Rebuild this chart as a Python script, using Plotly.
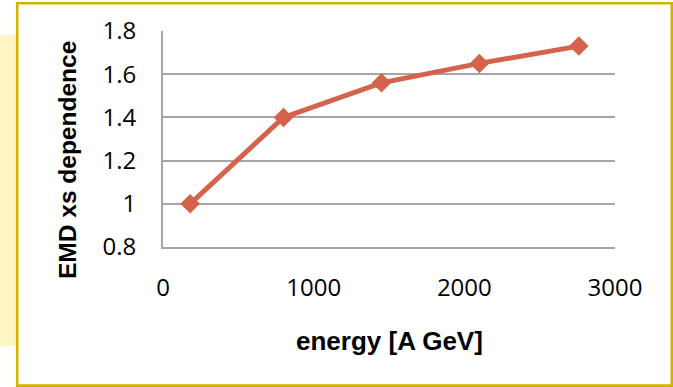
import plotly.graph_objects as go

# EMD cross-section dependence on beam energy
energy = [180, 800, 1450, 2100, 2760]
emd_xs = [1.0, 1.4, 1.56, 1.65, 1.73]

x_ticks = [0, 1000, 2000, 3000]
y_ticks = [0.8, 1.0, 1.2, 1.4, 1.6, 1.8]
y_tick_text = ["0.8", "1", "1.2", "1.4", "1.6", "1.8"]

line_color = "#D5634B"
grid_color = "#A6A6A6"
frame_color = "#D2B400"
tick_font = dict(family="Open Sans, Liberation Sans, sans-serif", size=24, color="#000000")
x_title_font = dict(family="Liberation Sans, Arial, sans-serif", size=26, color="#000000")
y_title_font = dict(family="Liberation Sans, Arial, sans-serif", size=24.5, color="#000000")

W, H = 673, 387
L, R, T, B = 163, 58, 31, 140
pw = W - L - R
ph = H - T - B


def px_x(v):
    return (v - L) / pw


def px_y(v):
    return (H - B - v) / ph


fig = go.Figure()
fig.add_trace(go.Scatter(
    x=energy, y=emd_xs, mode="lines+markers",
    line=dict(color=line_color, width=5),
    marker=dict(symbol="diamond", size=15, color=line_color),
    hoverinfo="x+y", showlegend=False,
))

fig.update_layout(
    width=W, height=H,
    margin=dict(l=L, r=R, t=T, b=B, pad=0),
    paper_bgcolor="white", plot_bgcolor="white",
    xaxis=dict(
        range=[0, 3000], tickvals=x_ticks, showgrid=False, zeroline=False,
        showline=True, linecolor=grid_color, linewidth=2,
        ticks="outside", ticklen=0, tickfont=tick_font, ticklabelstandoff=18,
        fixedrange=True,
    ),
    yaxis=dict(
        range=[0.8, 1.8], tickvals=y_ticks, ticktext=y_tick_text,
        showgrid=True, gridcolor=grid_color, gridwidth=2, zeroline=False,
        showline=True, linecolor=grid_color, linewidth=2,
        ticks="outside", ticklen=0, tickfont=tick_font, ticklabelstandoff=20,
        fixedrange=True,
    ),
    shapes=[
        # pale yellow strip at the left edge
        dict(type="rect", xref="paper", yref="paper",
             x0=px_x(0), x1=px_x(16), y0=px_y(346), y1=px_y(35),
             fillcolor="#FEF6C4", line=dict(width=0), layer="below"),
        # gold frame around the chart
        dict(type="rect", xref="paper", yref="paper",
             x0=px_x(17.2), x1=px_x(671.8), y0=px_y(385.6), y1=px_y(3.3),
             line=dict(color=frame_color, width=2.6), fillcolor="rgba(0,0,0,0)",
             layer="above"),
    ],
    annotations=[
        dict(text="<b>energy [A GeV]</b>", xref="paper", yref="paper",
             x=px_x(389), y=px_y(341), xanchor="center", yanchor="middle",
             showarrow=False, font=x_title_font),
        dict(text="<b>EMD xs dependence</b>", xref="paper", yref="paper",
             x=px_x(67), y=px_y(160), xanchor="center", yanchor="middle",
             textangle=-90, showarrow=False, font=y_title_font),
    ],
)

fig.write_html("out.html")
